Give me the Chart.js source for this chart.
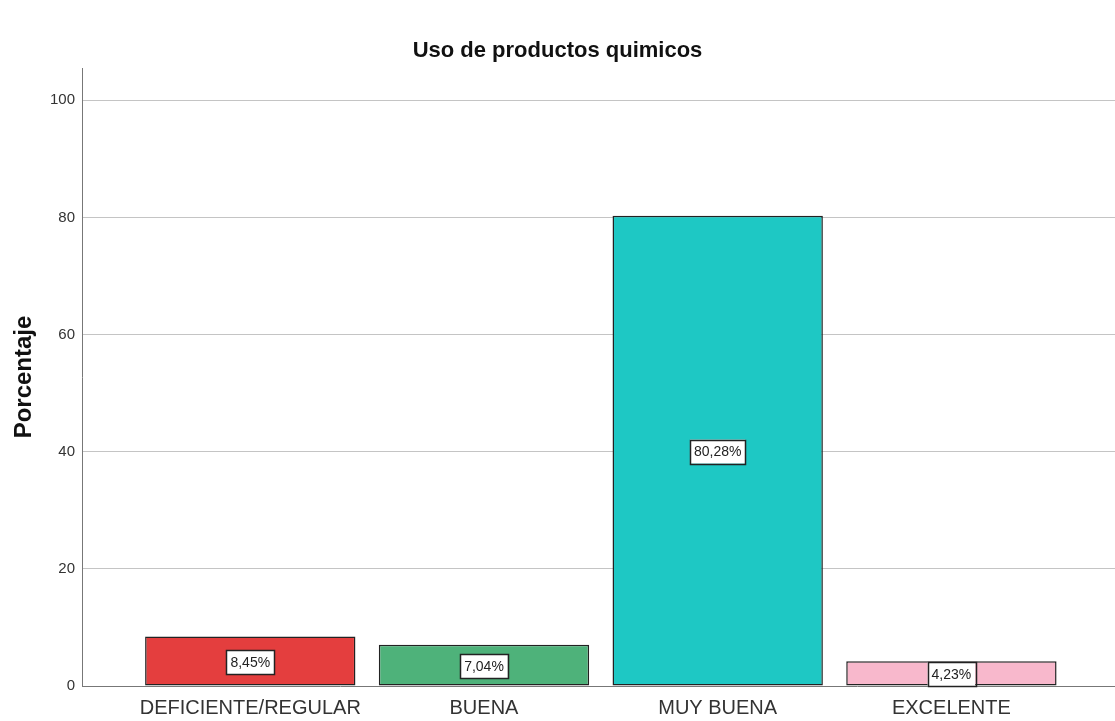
<!DOCTYPE html>
<html>
<head>
<meta charset="utf-8">
<script src="https://cdn.jsdelivr.net/npm/chart.js@4.4.0/dist/chart.umd.min.js"></script>
<style>
  html, body { margin: 0; padding: 0; background: #fff; }
  #wrap { width: 1115px; height: 721px; }
</style>
</head>
<body>
<div id="wrap"><canvas id="chart"></canvas></div>
<script>
const categories = ['DEFICIENTE/REGULAR', 'BUENA', 'MUY BUENA', 'EXCELENTE'];
const percentages = [8.45, 7.04, 80.28, 4.23];
const barColors = ['rgb(228,62,62)', 'rgb(78,178,122)', 'rgb(30,200,196)', 'rgb(248,184,204)'];
const yTicks = [0, 20, 40, 60, 80, 100];

const FONT = 'Arial, "Liberation Sans", sans-serif';

// white boxed percentage label in the middle of each bar
const barLabels = {
    id: 'barLabels',
    afterDatasetsDraw(chart) {
        const ctx = chart.ctx;
        const meta = chart.getDatasetMeta(0);
        ctx.save();
        ctx.font = '14px ' + FONT;
        ctx.textAlign = 'center';
        ctx.textBaseline = 'middle';
        meta.data.forEach((bar, i) => {
            const text = percentages[i].toFixed(2).replace('.', ',') + '%';
            const cx = bar.x;
            const cy = (bar.y + bar.base) / 2 + 1;
            const w = ctx.measureText(text).width + 8;
            const h = 24;
            ctx.fillStyle = '#fff';
            ctx.fillRect(cx - w / 2, cy - h / 2, w, h);
            ctx.strokeStyle = '#222';
            ctx.lineWidth = 1.5;
            ctx.strokeRect(Math.round(cx - w / 2) + 0.5, Math.round(cy - h / 2) + 0.5, Math.round(w), h);
            ctx.fillStyle = '#222';
            ctx.fillText(text, cx, cy + 1);
        });
        ctx.restore();
    }
};

new Chart(document.getElementById('chart').getContext('2d'), {
    type: 'bar',
    data: {
        datasets: [{
            data: categories.map((c, i) => ({x: i, y: percentages[i]})),
            backgroundColor: barColors,
            borderColor: '#222',
            borderWidth: 1.5,
            borderSkipped: false,
            categoryPercentage: 1,
            barPercentage: 0.9
        }]
    },
    options: {
        responsive: true,
        maintainAspectRatio: false,
        animation: false,
        layout: { padding: { left: 0, right: 0, top: 0, bottom: 0 } },
        plugins: {
            legend: { display: false },
            tooltip: { enabled: false },
            title: {
                display: true,
                text: 'Uso de productos quimicos',
                color: '#111',
                font: { family: FONT, size: 22, weight: 'bold', lineHeight: 1.2 },
                padding: { top: 38, bottom: 3.6 }
            }
        },
        scales: {
            x: {
                type: 'linear',
                offset: false,
                min: -0.72,
                max: 3.70,
                grid: { display: false, drawTicks: false, offset: false },
                border: { display: true, color: '#777', width: 1 },
                afterBuildTicks: (scale) => { scale.ticks = categories.map((c, i) => ({value: i})); },
                afterFit: (scale) => { scale.height = 35; },
                ticks: {
                    autoSkip: false,
                    maxRotation: 0,
                    padding: 10,
                    color: '#333',
                    font: { family: FONT, size: 20 },
                    callback: (v) => categories[v]
                }
            },
            y: {
                min: 0,
                max: 105.5,
                afterBuildTicks: (scale) => { scale.ticks = yTicks.map(v => ({value: v})); },
                afterFit: (scale) => { scale.width = 82; },
                grid: {
                    drawTicks: false,
                    color: (c) => c.tick && c.tick.value === 0 ? 'rgba(0,0,0,0)' : '#c4c4c4',
                    lineWidth: 1
                },
                border: { display: true, color: '#777', width: 1 },
                ticks: {
                    padding: 7,
                    color: '#333',
                    font: { family: FONT, size: 15 }
                },
                title: {
                    display: true,
                    text: 'Porcentaje',
                    color: '#111',
                    font: { family: FONT, size: 24, weight: 'bold', lineHeight: 1.2 },
                    padding: { top: 10, bottom: 0 }
                }
            }
        }
    },
    plugins: [barLabels]
});
</script>
</body>
</html>
